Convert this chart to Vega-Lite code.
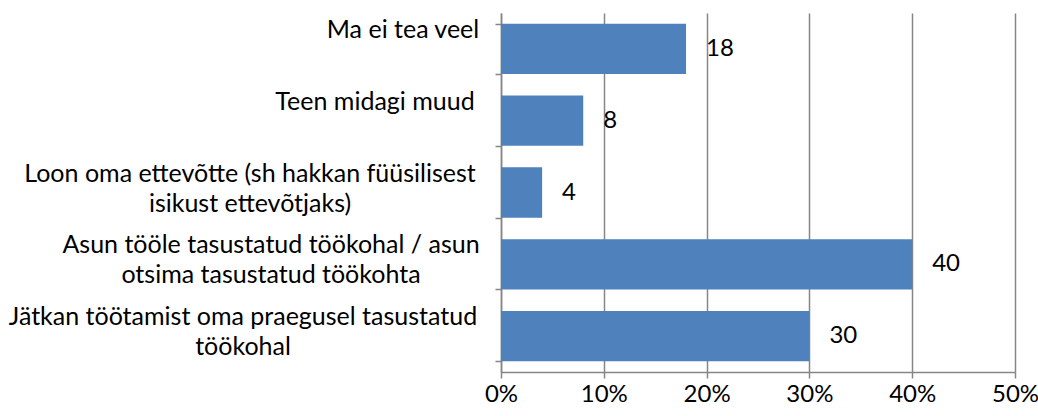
{
  "$schema": "https://vega.github.io/schema/vega-lite/v6.json",
  "autosize": "none",
  "width": 514,
  "height": 359,
  "padding": {"left": 501, "top": 13, "right": 23, "bottom": 44},
  "background": "white",
  "config": {"view": {"stroke": null}, "font": "Lato"},
  "data": {
    "values": [
      {"label": "Ma ei tea veel| ", "value": 18},
      {"label": "Teen midagi muud | ", "value": 8},
      {"label": "Loon oma ettevõtte (sh hakkan füüsilisest|isikust ettevõtjaks)", "value": 4},
      {"label": "Asun tööle tasustatud töökohal / asun|otsima tasustatud töökohta", "value": 40},
      {"label": "Jätkan töötamist oma praegusel tasustatud|töökohal", "value": 30}
    ]
  },
  "transform": [{"calculate": "split(datum.label, '|')", "as": "lines"}],
  "encoding": {
    "y": {
      "field": "label",
      "type": "nominal",
      "sort": null,
      "title": null,
      "scale": {"paddingInner": 0.3, "paddingOuter": 0.15},
      "axis": {
        "labels": false,
        "tickBand": "extent",
        "tickSize": 6,
        "tickWidth": 1.5,
        "tickColor": "#868686",
        "domainColor": "#868686",
        "domainWidth": 1.5,
        "grid": false
      }
    }
  },
  "layer": [
    {
      "mark": {"type": "bar", "color": "#4F81BD"},
      "encoding": {
        "x": {
          "field": "value",
          "type": "quantitative",
          "title": null,
          "scale": {"domain": [0, 50], "nice": false},
          "axis": {
            "values": [0, 10, 20, 30, 40, 50],
            "labelExpr": "datum.value + '%'",
            "labelFont": "Lato",
            "labelFontSize": 24,
            "labelColor": "black",
            "labelPadding": 4,
            "labelFlush": false,
            "labelOverlap": false,
            "tickSize": 6,
            "tickWidth": 1.5,
            "tickColor": "#868686",
            "domainColor": "#868686",
            "domainWidth": 1.5,
            "grid": true,
            "gridColor": "#868686",
            "gridWidth": 1.5,
            "gridOpacity": 1
          }
        }
      }
    },
    {
      "mark": {"type": "text", "align": "left", "baseline": "middle", "dx": 20, "fontSize": 24, "font": "Lato", "color": "black"},
      "encoding": {
        "x": {"field": "value", "type": "quantitative"},
        "text": {"field": "value", "type": "quantitative"}
      }
    },
    {
      "mark": {
        "type": "text",
        "align": "center",
        "baseline": "middle",
        "fontSize": 25,
        "font": "Lato",
        "color": "black",
        "lineHeight": 30,
        "dy": -19,
        "dx": {"expr": "indexof(datum.label, 'Ma ') === 0 ? -98 : indexof(datum.label, 'Teen') === 0 ? -126 : indexof(datum.label, 'Loon') === 0 ? -251 : indexof(datum.label, 'Asun') === 0 ? -230 : -258"}
      },
      "encoding": {
        "x": {"datum": 0},
        "text": {"field": "lines"}
      }
    }
  ]
}
